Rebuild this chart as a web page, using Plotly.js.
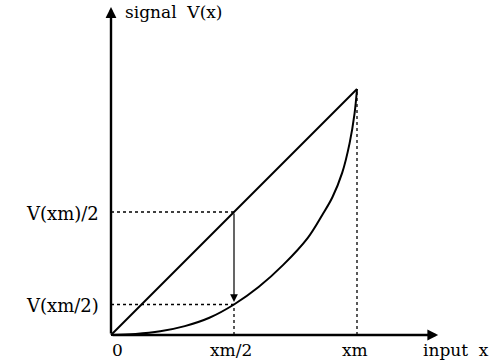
<!DOCTYPE html>
<html>
<head>
<meta charset="utf-8">
<script src="https://cdn.plot.ly/plotly-3.0.1.min.js"></script>
<style>html,body{margin:0;padding:0;background:#fff;}#chart{width:497px;height:361px;}</style>
</head>
<body>
<div id="chart"></div>
<script>
// ---- data (normalised: xm = 1, V(xm) = 1) ----
const linearX = [0, 1];
const linearY = [0, 1];
const curveX = [0, 0.1, 0.2, 0.3, 0.4, 0.5, 0.6, 0.7, 0.8, 0.86, 0.9, 0.94, 0.97, 0.99, 1.0];
const curveY = [0, 0.004, 0.015, 0.036, 0.07, 0.124, 0.195, 0.285, 0.395, 0.49, 0.56, 0.66, 0.78, 0.90, 1.0];
const xTickVals = [0, 0.5, 1];
const xTickText = ['0', 'xm/2', 'xm'];
const yTickVals = [0.5, 0.124];
const yTickText = ['V(xm)/2', 'V(xm/2)'];
const yAxisTitle = 'signal  V(x)';
const xAxisTitle = 'input  x';
const axisEndX = 1.33;
const axisEndY = 1.333;

// ---- layout mapping ----
const ox = 111, oy = 335, unit = 246, W = 497, H = 361;
const xRange = [-ox / unit, (W - ox) / unit];
const yRange = [(oy - H) / unit, oy / unit];
const FONT = {family: 'DejaVu Serif, Liberation Serif, serif', size: 17, color: '#000'};
const FONT_Y = {family: 'DejaVu Serif, Liberation Serif, serif', size: 18, color: '#000'};

const dot = {color: '#000', width: 1.3, dash: 'dot'};
const traces = [
  // dotted guides
  {x: [0, xTickVals[1]], y: [yTickVals[0], yTickVals[0]], mode: 'lines', line: dot},
  {x: [0, xTickVals[1]], y: [yTickVals[1], yTickVals[1]], mode: 'lines', line: dot},
  {x: [xTickVals[1], xTickVals[1]], y: [0, yTickVals[1]], mode: 'lines', line: dot},
  {x: [xTickVals[2], xTickVals[2]], y: [0, linearY[1]], mode: 'lines', line: dot},
  // linear response
  {x: linearX, y: linearY, mode: 'lines', line: {color: '#000', width: 2}},
  // nonlinear response
  {x: curveX, y: curveY, mode: 'lines', line: {color: '#000', width: 2, shape: 'spline', smoothing: 1}}
];

const annotations = [];
// axes with arrowheads
annotations.push({x: 0, y: axisEndY, ax: 0, ay: 0, xref: 'x', yref: 'y', axref: 'x', ayref: 'y',
  text: '', showarrow: true, arrowhead: 2, arrowsize: 0.9, arrowwidth: 2.4, arrowcolor: '#000', standoff: 0, startstandoff: 0});
annotations.push({x: axisEndX, y: 0, ax: 0, ay: 0, xref: 'x', yref: 'y', axref: 'x', ayref: 'y',
  text: '', showarrow: true, arrowhead: 2, arrowsize: 0.9, arrowwidth: 2.4, arrowcolor: '#000', standoff: 0, startstandoff: 0});
// vertical arrow from V(xm)/2 down to V(xm/2)
annotations.push({x: xTickVals[1], y: yTickVals[1] + 0.01, ax: xTickVals[1], ay: yTickVals[0], xref: 'x', yref: 'y', axref: 'x', ayref: 'y',
  text: '', showarrow: true, arrowhead: 2, arrowsize: 1.3, arrowwidth: 1.2, arrowcolor: '#000', standoff: 0});
// x labels
xTickVals.forEach((v, i) => annotations.push({x: v, y: 0, xref: 'x', yref: 'y', text: xTickText[i],
  showarrow: false, xanchor: 'center', yanchor: 'middle', yshift: -15, xshift: i === 0 ? 6 : (i === 1 ? -3 : -2), font: FONT}));
// y labels
yTickVals.forEach((v, i) => annotations.push({x: 0, y: v, xref: 'x', yref: 'y', text: yTickText[i],
  showarrow: false, xanchor: 'right', yanchor: 'middle', xshift: -10, yshift: -1, font: FONT_Y}));
// axis titles
annotations.push({x: 0, y: axisEndY, xref: 'x', yref: 'y', text: yAxisTitle, showarrow: false,
  xanchor: 'left', yanchor: 'middle', xshift: 12, yshift: -5, font: FONT});
annotations.push({x: axisEndX, y: 0, xref: 'x', yref: 'y', text: xAxisTitle, showarrow: false,
  xanchor: 'left', yanchor: 'middle', xshift: -17, yshift: -15, font: FONT});

const layout = {
  width: W, height: H,
  margin: {l: 0, r: 0, t: 0, b: 0},
  paper_bgcolor: '#fff', plot_bgcolor: '#fff',
  showlegend: false,
  xaxis: {range: xRange, visible: false, fixedrange: true},
  yaxis: {range: yRange, visible: false, fixedrange: true},
  annotations: annotations
};

Plotly.newPlot('chart', traces, layout, {staticPlot: true, displayModeBar: false});
</script>
</body>
</html>
